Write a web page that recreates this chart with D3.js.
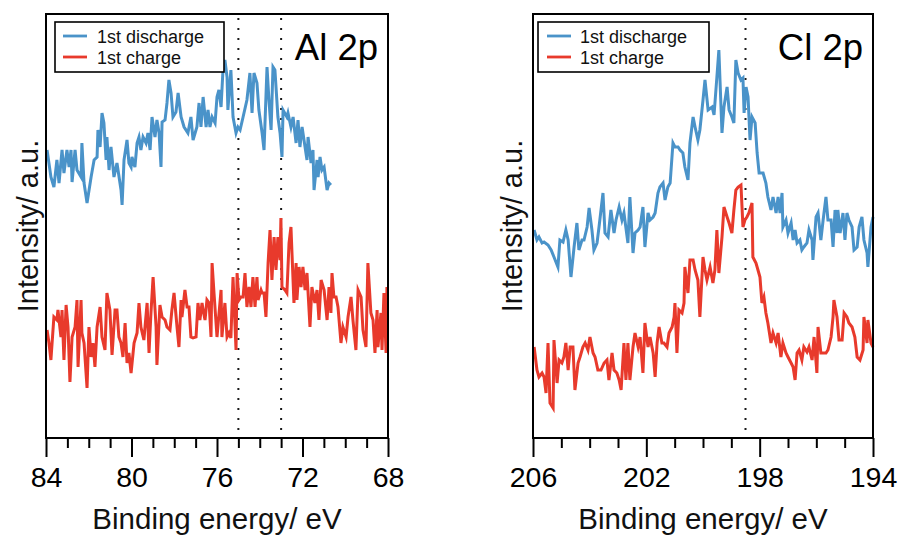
<!DOCTYPE html>
<html>
<head>
<meta charset="utf-8">
<script src="https://cdn.jsdelivr.net/npm/d3@7"></script>
<style>
  html, body { margin: 0; padding: 0; background: #fff; }
  svg { display: block; font-family: "Liberation Sans", Arial, Helvetica, sans-serif; }
</style>
</head>
<body>
<svg id="chart" width="904" height="538"></svg>
<script>
// ---------------- DATA (binding energy in eV, intensity in arbitrary units) ----------------
const alDischarge = [[83.95,288],[83.77,261],[83.63,251],[83.49,278],[83.39,255],[83.25,288],[83.16,265],[83.02,288],[82.92,271],[82.83,288],[82.78,256],[82.64,288],[82.55,268],[82.36,261],[82.32,295],[82.22,255],[82.08,235],[81.89,261],[81.75,278],[81.61,281],[81.57,308],[81.47,291],[81.38,325],[81.29,315],[81.19,278],[81.15,301],[81.05,268],[80.96,291],[80.82,261],[80.68,275],[80.49,248],[80.44,233],[80.35,278],[80.21,298],[80.12,275],[80.02,271],[79.98,281],[79.84,271],[79.74,295],[79.65,301],[79.56,288],[79.46,301],[79.32,295],[79.23,305],[79.13,288],[79.04,321],[78.90,301],[78.81,318],[78.71,305],[78.62,271],[78.57,316],[78.43,318],[78.34,335],[78.25,358],[78.15,345],[78.06,321],[77.92,326],[77.82,345],[77.68,321],[77.54,311],[77.36,305],[77.22,321],[77.12,298],[76.94,311],[76.84,335],[76.75,311],[76.65,341],[76.51,311],[76.42,328],[76.33,311],[76.23,321],[76.09,315],[76.00,341],[75.91,348],[75.81,331],[75.72,368],[75.63,378],[75.53,361],[75.49,328],[75.35,368],[75.25,321],[75.11,305],[75.02,311],[74.92,308],[74.78,321],[74.60,338],[74.46,365],[74.36,325],[74.27,365],[74.13,355],[74.04,328],[73.89,305],[73.80,288],[73.66,371],[73.57,338],[73.47,308],[73.38,371],[73.29,368],[73.15,321],[73.05,305],[72.96,281],[72.91,328],[72.73,321],[72.68,325],[72.54,311],[72.44,321],[72.30,295],[72.21,318],[72.12,291],[72.02,311],[71.93,298],[71.79,278],[71.74,301],[71.60,275],[71.51,288],[71.46,248],[71.32,278],[71.27,261],[71.18,281],[71.09,268],[70.99,271],[70.85,248],[70.76,255],[70.67,253]];

const alCharge = [[83.95,108],[83.86,95],[83.77,78],[83.63,121],[83.49,118],[83.44,128],[83.30,101],[83.25,128],[83.16,78],[83.06,133],[82.97,111],[82.88,56],[82.78,101],[82.64,111],[82.55,138],[82.50,71],[82.36,138],[82.32,105],[82.22,95],[82.08,50],[81.99,111],[81.89,81],[81.80,95],[81.71,71],[81.61,111],[81.47,131],[81.38,101],[81.24,88],[81.15,145],[81.01,128],[80.91,83],[80.77,128],[80.68,128],[80.59,101],[80.49,95],[80.40,81],[80.30,115],[80.21,75],[80.12,85],[80.02,65],[79.88,95],[79.74,105],[79.65,135],[79.56,111],[79.42,98],[79.27,135],[79.18,85],[79.09,125],[78.99,161],[78.85,111],[78.81,73],[78.67,133],[78.57,121],[78.43,118],[78.34,111],[78.20,108],[78.11,128],[78.01,145],[77.87,111],[77.78,91],[77.68,138],[77.64,121],[77.50,148],[77.40,131],[77.31,131],[77.22,101],[77.12,100],[76.98,101],[76.89,135],[76.80,118],[76.70,135],[76.65,128],[76.56,118],[76.47,138],[76.37,135],[76.28,101],[76.23,175],[76.14,145],[76.00,101],[75.81,148],[75.77,101],[75.63,135],[75.53,101],[75.44,105],[75.35,100],[75.25,161],[75.11,88],[75.06,165],[74.97,138],[74.88,141],[74.78,141],[74.69,165],[74.60,131],[74.50,151],[74.41,131],[74.32,161],[74.22,131],[74.13,161],[74.08,138],[73.94,148],[73.89,145],[73.80,145],[73.71,121],[73.61,175],[73.52,208],[73.43,158],[73.33,201],[73.24,168],[73.15,201],[73.05,178],[73.01,220],[72.96,151],[72.82,148],[72.73,145],[72.63,195],[72.54,211],[72.40,135],[72.30,175],[72.26,138],[72.16,171],[72.07,151],[71.98,171],[71.88,148],[71.79,165],[71.65,111],[71.56,151],[71.42,135],[71.32,148],[71.23,118],[71.13,158],[70.99,148],[70.85,118],[70.76,151],[70.67,125],[70.62,165],[70.53,141],[70.43,141],[70.34,131],[70.20,95],[70.11,111],[69.96,101],[69.87,121],[69.73,141],[69.64,118],[69.50,88],[69.40,148],[69.26,141],[69.17,108],[69.03,91],[68.94,175],[68.80,125],[68.70,118],[68.61,85],[68.51,128],[68.47,91],[68.33,125],[68.28,88],[68.19,145],[68.09,85],[68.05,151]];

const clDischarge = [[205.96,208],[205.86,198],[205.79,201],[205.68,195],[205.61,196],[205.47,193],[205.36,188],[205.26,181],[205.12,171],[205.05,198],[204.94,196],[204.84,208],[204.76,198],[204.66,161],[204.55,191],[204.45,215],[204.38,188],[204.27,198],[204.20,198],[204.09,211],[204.02,230],[203.92,208],[203.85,188],[203.74,195],[203.67,211],[203.53,245],[203.46,205],[203.35,201],[203.25,228],[203.14,205],[203.07,218],[202.96,231],[202.86,218],[202.79,225],[202.65,195],[202.58,241],[202.47,185],[202.40,205],[202.29,208],[202.22,211],[202.12,231],[202.05,191],[201.94,225],[201.87,218],[201.76,221],[201.69,225],[201.59,245],[201.52,251],[201.41,255],[201.34,238],[201.24,251],[201.16,255],[201.06,295],[200.99,291],[200.88,291],[200.81,288],[200.71,285],[200.64,271],[200.53,258],[200.46,295],[200.35,321],[200.28,311],[200.18,298],[200.11,308],[200.00,338],[199.93,358],[199.82,328],[199.68,331],[199.61,323],[199.51,361],[199.44,388],[199.33,305],[199.26,331],[199.15,351],[199.08,328],[198.98,321],[198.91,315],[198.84,378],[198.76,365],[198.66,358],[198.59,360],[198.55,325],[198.48,351],[198.41,341],[198.34,298],[198.27,321],[198.16,315],[198.09,285],[198.02,265],[197.88,265],[197.78,255],[197.71,241],[197.60,228],[197.53,241],[197.42,225],[197.35,241],[197.28,225],[197.21,245],[197.18,211],[197.07,218],[197.00,205],[196.89,215],[196.82,198],[196.75,208],[196.68,195],[196.58,198],[196.51,188],[196.44,191],[196.33,195],[196.26,208],[196.15,198],[196.12,178],[196.01,221],[195.94,225],[195.84,198],[195.76,218],[195.66,241],[195.59,218],[195.48,218],[195.41,191],[195.34,228],[195.27,205],[195.24,228],[195.16,205],[195.06,225],[194.99,198],[194.92,225],[194.85,218],[194.74,211],[194.67,188],[194.56,191],[194.49,211],[194.39,221],[194.32,198],[194.21,185],[194.18,171],[194.07,211],[194.00,221]];

const clCharge = [[205.96,91],[205.86,68],[205.79,61],[205.68,65],[205.61,61],[205.54,45],[205.47,95],[205.40,35],[205.29,30],[205.26,98],[205.15,55],[205.08,78],[204.98,75],[204.91,81],[204.84,95],[204.76,68],[204.69,91],[204.59,91],[204.52,48],[204.41,75],[204.34,81],[204.24,91],[204.16,95],[204.06,88],[203.99,101],[203.88,85],[203.81,81],[203.71,68],[203.60,68],[203.49,75],[203.39,78],[203.32,58],[203.21,85],[203.14,68],[203.04,65],[202.96,58],[202.89,48],[202.79,95],[202.72,58],[202.65,95],[202.58,58],[202.47,91],[202.40,105],[202.29,91],[202.22,101],[202.12,65],[202.05,115],[201.94,91],[201.87,101],[201.76,85],[201.69,61],[201.62,95],[201.55,111],[201.45,95],[201.38,95],[201.27,91],[201.20,105],[201.09,111],[201.02,121],[200.99,135],[200.92,85],[200.85,128],[200.74,125],[200.67,135],[200.64,171],[200.53,145],[200.46,178],[200.35,178],[200.28,168],[200.18,158],[200.11,121],[200.00,181],[199.93,168],[199.86,158],[199.75,171],[199.65,155],[199.58,168],[199.51,208],[199.44,165],[199.33,201],[199.26,231],[199.15,221],[199.08,215],[198.98,205],[198.91,228],[198.84,248],[198.76,251],[198.66,253],[198.59,211],[198.52,218],[198.45,221],[198.38,225],[198.27,235],[198.24,181],[198.13,175],[198.06,168],[197.99,161],[197.92,135],[197.85,141],[197.78,125],[197.71,115],[197.60,95],[197.53,105],[197.42,95],[197.35,105],[197.25,81],[197.18,95],[197.07,85],[197.00,81],[196.89,75],[196.82,71],[196.75,58],[196.68,85],[196.61,88],[196.51,78],[196.44,91],[196.33,86],[196.26,91],[196.15,78],[196.08,101],[195.98,65],[195.94,111],[195.84,85],[195.76,85],[195.66,85],[195.59,88],[195.48,101],[195.41,121],[195.38,138],[195.27,121],[195.20,98],[195.09,98],[195.02,125],[194.92,121],[194.85,115],[194.74,111],[194.64,101],[194.56,81],[194.46,78],[194.35,88],[194.32,121],[194.21,95],[194.18,118],[194.07,95],[194.00,91]];

const alTicks = [84, 80, 76, 72, 68];
const clTicks = [206, 202, 198, 194];
const alRefLines = [75, 73];
const clRefLines = [198.5];
const seriesNames = ["1st discharge", "1st charge"];
const seriesColors = ["#4a93c9", "#e83a2c"];
const panelLabels = ["Al 2p", "Cl 2p"];
const xTitle = "Binding energy/ eV";
const yTitle = "Intensity/ a.u.";

// ---------------- LAYOUT ----------------
const svg = d3.select("#chart");
const plotTop = 14, plotBottom = 438;
const y = d3.scaleLinear().domain([0, 424]).range([plotBottom, plotTop]);

const panels = [
  { left: 46, right: 388, domain: [84, 68], ticks: alTicks, refs: alRefLines,
    series: [alDischarge, alCharge], label: panelLabels[0],
    legend: { x: 55, y: 22, w: 169, h: 50, lx0: 63, lx1: 87, tx: 97 },
    yTitleX: 38 },
  { left: 533, right: 873, domain: [206, 194], ticks: clTicks, refs: clRefLines,
    series: [clDischarge, clCharge], label: panelLabels[1],
    legend: { x: 538, y: 22, w: 171, h: 50, lx0: 547, lx1: 571, tx: 580 },
    yTitleX: 522 }
];

panels.forEach(p => {
  const x = d3.scaleLinear().domain(p.domain).range([p.left, p.right]);
  const g = svg.append("g");

  // reference dotted lines
  g.selectAll(".ref").data(p.refs).join("line")
    .attr("x1", d => x(d)).attr("x2", d => x(d))
    .attr("y1", 18).attr("y2", 430)
    .attr("stroke", "#1a1a1a").attr("stroke-width", 2)
    .attr("stroke-dasharray", "2,8");

  // spectra
  const line = d3.line().x(d => x(d[0])).y(d => y(d[1]));
  p.series.forEach((s, i) => {
    g.append("path").datum(s)
      .attr("d", line)
      .attr("fill", "none")
      .attr("stroke", seriesColors[i])
      .attr("stroke-width", 3)
      .attr("stroke-linejoin", "miter")
      .attr("stroke-miterlimit", 5);
  });

  // frame
  g.append("rect")
    .attr("x", p.left).attr("y", plotTop)
    .attr("width", p.right - p.left).attr("height", plotBottom - plotTop)
    .attr("fill", "none").attr("stroke", "#000").attr("stroke-width", 2);

  // minor ticks
  const lo = Math.min(...p.domain), hi = Math.max(...p.domain);
  const minor = d3.range(lo, hi + 1, 1).filter(v => !p.ticks.includes(v));
  const minorAxis = d3.axisBottom(x).tickValues(minor).tickSize(10).tickFormat("");
  const ma = g.append("g").attr("transform", `translate(0,${plotBottom})`).call(minorAxis);
  ma.select(".domain").remove();
  ma.selectAll(".tick line").attr("stroke", "#000").attr("stroke-width", 2);

  // major ticks + labels
  const majorAxis = d3.axisBottom(x).tickValues(p.ticks).tickSize(19).tickPadding(10)
    .tickFormat(d3.format("d"));
  const mj = g.append("g").attr("transform", `translate(0,${plotBottom})`).call(majorAxis);
  mj.select(".domain").remove();
  mj.selectAll(".tick line").attr("stroke", "#000").attr("stroke-width", 2);
  mj.selectAll(".tick text")
    .attr("font-family", "'Liberation Sans', Arial, Helvetica, sans-serif")
    .attr("font-size", 28.5).attr("fill", "#000");

  // x title
  g.append("text")
    .attr("x", (p.left + p.right) / 2).attr("y", 529)
    .attr("text-anchor", "middle").attr("font-size", 29.5).attr("fill", "#111")
    .text(xTitle);

  // y title
  g.append("text")
    .attr("transform", `translate(${p.yTitleX},${(plotTop + plotBottom) / 2}) rotate(-90)`)
    .attr("text-anchor", "middle").attr("font-size", 29).attr("fill", "#111")
    .text(yTitle);

  // panel label
  g.append("text")
    .attr("x", p.right - 10).attr("y", 60)
    .attr("text-anchor", "end").attr("font-size", 36.5).attr("fill", "#000")
    .text(p.label);

  // legend
  const L = p.legend;
  const lg = g.append("g");
  lg.append("rect").attr("x", L.x).attr("y", L.y).attr("width", L.w).attr("height", L.h)
    .attr("fill", "#fff").attr("stroke", "#000").attr("stroke-width", 1.6);
  seriesNames.forEach((name, i) => {
    const ly = L.y + 14 + i * 21;
    lg.append("line").attr("x1", L.lx0).attr("x2", L.lx1).attr("y1", ly).attr("y2", ly)
      .attr("stroke", seriesColors[i]).attr("stroke-width", 2.8);
    lg.append("text").attr("x", L.tx).attr("y", ly + 7)
      .attr("font-size", 18).attr("fill", "#111").text(name);
  });
});
</script>
</body>
</html>
